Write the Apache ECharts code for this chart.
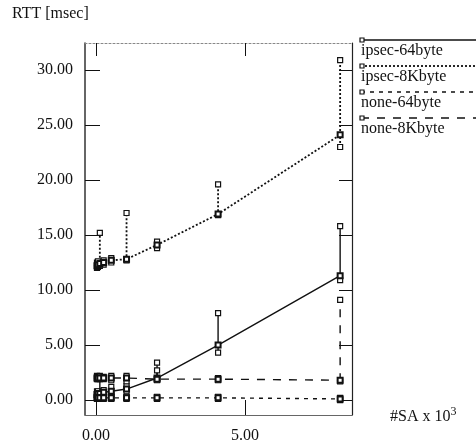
<!DOCTYPE html>
<html>
<head>
<meta charset="utf-8">
<script src="https://cdn.jsdelivr.net/npm/echarts@6/dist/echarts.min.js"></script>
<style>
	html, body { margin: 0; padding: 0; background: #fff; }
	#chart { width: 476px; height: 445px; }
</style>
</head>
<body>
<div id="chart"></div>
<script>
	// number of SAs (x 10^3)
	var xs = [0.032, 0.064, 0.128, 0.256, 0.512, 1.024, 2.048, 4.096, 8.192];

	var ipsec64Mean = [0.5, 0.6, 0.6, 0.7, 0.8, 1.0, 2.0, 5.0, 11.3];
	var ipsec64Min  = [0.3, 0.4, 0.4, 0.5, 0.5, 0.8, 1.9, 4.3, 10.9];
	var ipsec64Max  = [0.8, 0.8, 2.0, 0.9, 1.2, 1.3, 3.4, 7.9, 15.8];

	var ipsec8kMean = [12.2, 12.3, 12.4, 12.5, 12.7, 12.8, 14.1, 16.9, 24.1];
	var ipsec8kMin  = [12.0, 12.1, 12.2, 12.3, 12.5, 12.7, 13.8, 16.8, 23.0];
	var ipsec8kMax  = [12.5, 12.6, 15.2, 12.7, 12.9, 17.0, 14.4, 19.6, 30.9];

	var none64Mean = [0.2, 0.2, 0.2, 0.2, 0.2, 0.2, 0.2, 0.2, 0.1];
	var none64Min  = [0.1, 0.1, 0.1, 0.1, 0.1, 0.1, 0.1, 0.1, 0.0];
	var none64Max  = [0.3, 0.3, 0.3, 0.3, 0.3, 0.3, 0.3, 0.3, 0.2];

	var none8kMean = [2.0, 2.0, 2.0, 2.0, 2.0, 2.0, 1.9, 1.9, 1.8];
	var none8kMin  = [1.9, 1.9, 1.9, 1.9, 1.8, 1.7, 1.8, 1.8, 1.7];
	var none8kMax  = [2.2, 2.1, 2.2, 2.1, 2.2, 2.2, 2.7, 2.0, 9.1];

	var names = ['ipsec-64byte', 'ipsec-8Kbyte', 'none-64byte', 'none-8Kbyte'];
	var yTicks = [0, 5, 10, 15, 20, 25, 30];
	var xTicks = [0, 5];

	var FONT = 'Liberation Serif';
	var INK = '#111';

	var styles = [
		{ width: 1.4, dash: null },
		{ width: 1.8, dash: [2, 2] },
		{ width: 1.4, dash: [4, 5] },
		{ width: 1.4, dash: [8, 8] }
	];
	var means = [ipsec64Mean, ipsec8kMean, none64Mean, none8kMean];
	var mins = [ipsec64Min, ipsec8kMin, none64Min, none8kMin];
	var maxs = [ipsec64Max, ipsec8kMax, none64Max, none8kMax];

	function box(p) {
		return {
			type: 'rect',
			shape: { x: p[0] - 2.5, y: p[1] - 2.5, width: 5, height: 5 },
			style: { fill: '#fff', stroke: INK, lineWidth: 1.2 }
		};
	}

	function errRender(st) {
		return function (params, api) {
			var x = api.value(0);
			var lo = api.coord([x, api.value(1)]);
			var hi = api.coord([x, api.value(2)]);
			return {
				type: 'group',
				children: [
					{
						type: 'line',
						shape: { x1: lo[0], y1: lo[1], x2: hi[0], y2: hi[1] },
						style: { stroke: INK, lineWidth: st.width, lineDash: st.dash }
					},
					box(lo),
					box(hi)
				]
			};
		};
	}

	var series = [];
	names.forEach(function (name, i) {
		series.push({
			name: name,
			type: 'line',
			data: xs.map(function (x, k) { return [x, means[i][k]]; }),
			symbol: 'emptyRect',
			symbolSize: 5,
			showAllSymbol: true,
			itemStyle: { color: INK, borderWidth: 1.2 },
			lineStyle: { color: INK, width: styles[i].width, type: styles[i].dash || 'solid' },
			z: 3,
			animation: false
		});
		series.push({
			name: name + '-err',
			type: 'custom',
			renderItem: errRender(styles[i]),
			data: xs.map(function (x, k) { return [x, mins[i][k], maxs[i][k]]; }),
			encode: { x: 0, y: [1, 2] },
			z: 2,
			animation: false
		});
	});

	// legend drawn as lines with text underneath
	var legendItems = [];
	var legendY = [40, 66, 92, 118];
	names.forEach(function (name, i) {
		legendItems.push({
			type: 'line',
			shape: { x1: 361, y1: legendY[i], x2: 476, y2: legendY[i] },
			style: { stroke: INK, lineWidth: styles[i].width, lineDash: styles[i].dash }
		});
		legendItems.push({
			type: 'rect',
			shape: { x: 360, y: legendY[i] - 2, width: 4, height: 4 },
			style: { fill: '#fff', stroke: INK, lineWidth: 1.2 }
		});
		legendItems.push({
			type: 'text',
			style: {
				x: 361, y: legendY[i] + 3,
				text: name,
				font: '16px "' + FONT + '"',
				fill: INK,
				textVerticalAlign: 'top'
			}
		});
	});

	var labelStyle = { fontFamily: FONT, fontSize: 16, color: INK };

	var chart = echarts.init(document.getElementById('chart'));
	chart.setOption({
		backgroundColor: '#fff',
		animation: false,
		grid: { left: 85, right: 124, top: 43, bottom: 30, outerBoundsMode: 'none' },
		xAxis: [{
			type: 'value',
			position: 'bottom',
			min: -0.37,
			max: 8.59,
			name: '#SA x 10{sup|3}',
			nameLocation: 'end',
			nameGap: 38,
			nameTextStyle: {
				fontFamily: FONT, fontSize: 16, color: INK,
				padding: [4, 0, 0, 0],
				rich: { sup: { fontFamily: FONT, fontSize: 12, color: INK, verticalAlign: 'top', padding: [0, 0, 10, 0] } }
			},
			axisLine: { onZero: false, lineStyle: { color: '#666', width: 1 } },
			axisTick: { inside: true, length: 15, customValues: xTicks, lineStyle: { color: INK } },
			axisLabel: Object.assign({ customValues: xTicks, margin: 13, formatter: function (v) { return v.toFixed(2); } }, labelStyle),
			splitLine: { show: false }
		}, {
			type: 'value',
			position: 'top',
			min: -0.37,
			max: 8.59,
			axisLine: { onZero: false, lineStyle: { color: '#888', width: 1, type: [2, 2] } },
			axisTick: { inside: true, length: 13, customValues: xTicks, lineStyle: { color: INK } },
			axisLabel: { show: false },
			splitLine: { show: false }
		}],
		yAxis: [{
			type: 'value',
			position: 'left',
			min: -1.36,
			max: 32.45,
			axisLine: { show: true, onZero: false, lineStyle: { color: '#333', width: 1.5 } },
			axisTick: { show: true, inside: true, length: 15, customValues: yTicks, lineStyle: { color: INK } },
			axisLabel: Object.assign({ customValues: yTicks, margin: 12, formatter: function (v) { return v.toFixed(2); } }, labelStyle),
			splitLine: { show: false }
		}, {
			type: 'value',
			position: 'right',
			min: -1.36,
			max: 32.45,
			axisLine: { show: true, onZero: false, lineStyle: { color: '#222', width: 1.2 } },
			axisTick: { show: true, inside: true, length: 13, customValues: yTicks, lineStyle: { color: INK } },
			axisLabel: { show: false },
			splitLine: { show: false }
		}],
		graphic: [{
			type: 'text',
			left: 12,
			top: 6,
			style: { text: 'RTT [msec]', font: '16px "' + FONT + '"', fill: INK }
		}, {
			type: 'group',
			children: legendItems
		}],
		series: series
	});
</script>
</body>
</html>
